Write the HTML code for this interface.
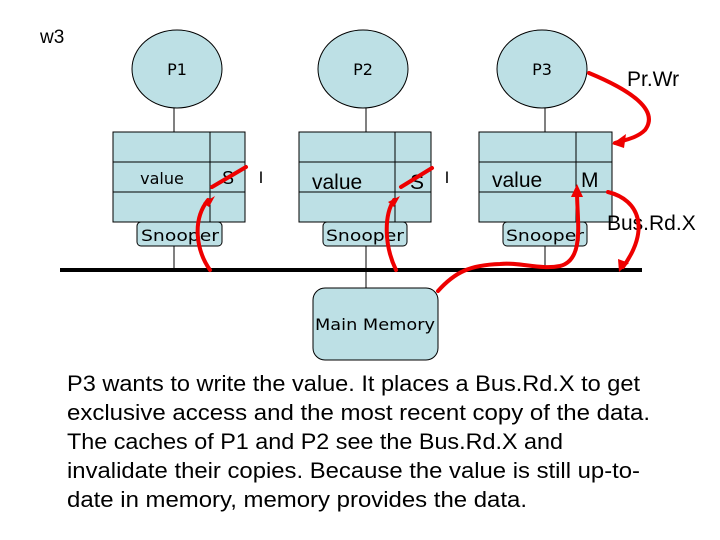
<!DOCTYPE html>
<html><head><meta charset="utf-8"><style>
html,body{margin:0;padding:0;background:#fff}
svg{display:block}
.m{font-family:"DejaVu Sans","Liberation Sans",sans-serif}
.s{font-family:"Liberation Sans",sans-serif}
</style></head><body>
<svg width="720" height="540" viewBox="0 0 720 540" xmlns="http://www.w3.org/2000/svg">
<g fill="#bde0e5" stroke="#000" stroke-width="1">
<ellipse cx="177" cy="69" rx="45" ry="39"/>
<ellipse cx="363" cy="69" rx="45" ry="39"/>
<ellipse cx="542" cy="69" rx="45" ry="39"/>
<rect x="113" y="132" width="132" height="90"/>
<rect x="299" y="132" width="132" height="90"/>
<rect x="479" y="132" width="133" height="90"/>
<rect x="137" y="222" width="85" height="24" rx="4"/>
<rect x="323" y="222" width="84" height="24" rx="4"/>
<rect x="503" y="222" width="84" height="24" rx="4"/>
<rect x="313" y="288" width="125" height="72" rx="12"/>
</g>
<g stroke="#000" stroke-width="1">
<line x1="113" y1="162" x2="245" y2="162"/><line x1="113" y1="192" x2="245" y2="192"/><line x1="210" y1="132" x2="210" y2="222"/>
<line x1="299" y1="162" x2="431" y2="162"/><line x1="299" y1="192" x2="431" y2="192"/><line x1="395" y1="132" x2="395" y2="222"/>
<line x1="479" y1="162" x2="612" y2="162"/><line x1="479" y1="192" x2="612" y2="192"/><line x1="576" y1="132" x2="576" y2="222"/>
<line x1="174" y1="108" x2="174" y2="132"/><line x1="174" y1="246" x2="174" y2="270"/>
<line x1="366" y1="108" x2="366" y2="132"/><line x1="366" y1="246" x2="366" y2="288"/>
<line x1="545" y1="108" x2="545" y2="132"/><line x1="545" y1="246" x2="545" y2="270"/>
</g>
<rect x="60" y="268" width="582" height="4" fill="#000"/>
<text x="40" y="43" class="s" font-size="19">w3</text>
<g class="m" font-size="16" text-anchor="middle">
<text x="177" y="75">P1</text><text x="363" y="75">P2</text><text x="542" y="75">P3</text>
<text x="162" y="184">value</text>
<text x="180" y="241" textLength="78" lengthAdjust="spacingAndGlyphs">Snooper</text>
<text x="365" y="241" textLength="78" lengthAdjust="spacingAndGlyphs">Snooper</text>
<text x="545" y="241" textLength="78" lengthAdjust="spacingAndGlyphs">Snooper</text>
<text x="375" y="330" textLength="120" lengthAdjust="spacingAndGlyphs">Main Memory</text>
<text x="261" y="183">I</text><text x="447" y="183">I</text>
</g>
<g class="s" font-size="21">
<text x="312" y="189">value</text><text x="410" y="189">S</text>
<text x="492" y="187">value</text><text x="581" y="187">M</text>
<text x="222" y="184" font-size="18">S</text>
<text x="627" y="86">Pr.Wr</text>
<text x="607" y="230">Bus.Rd.X</text>
</g>
<g fill="none" stroke="#e00" stroke-width="4" stroke-linecap="round">
<path d="M212 187 L246 167"/>
<path d="M401 187 L432 168"/>
<path d="M210 270 C196 250 192 220 208 200"/>
<path d="M396 270 C384 245 384 215 394 200"/>
<path d="M589 73 C630 90 660 110 645 130 C637 138 625 140 615 143"/>
<path d="M438 291 C455 272 470 265 500 264 C520 262 540 270 560 266 C585 260 577 220 577 192"/>
<path d="M608 192 C640 200 650 230 623 267"/>
</g>
<g fill="#e00">
<polygon points="215,196 203,203 209,207"/>
<polygon points="400,196 388,202 394,207"/>
<polygon points="612,144 626,134 624,148"/>
<polygon points="577,184 571,197 583,197"/>
<polygon points="619,272 618,259 629,263"/>
</g>
<g class="s" font-size="22" fill="#000">
<text x="67" y="391" textLength="573" lengthAdjust="spacingAndGlyphs">P3 wants to write the value. It places a Bus.Rd.X to get</text>
<text x="67" y="420" textLength="583" lengthAdjust="spacingAndGlyphs">exclusive access and the most recent copy of the data.</text>
<text x="67" y="449" textLength="496" lengthAdjust="spacingAndGlyphs">The caches of P1 and P2 see the Bus.Rd.X and</text>
<text x="67" y="478" textLength="573" lengthAdjust="spacingAndGlyphs">invalidate their copies. Because the value is still up-to-</text>
<text x="67" y="507" textLength="460" lengthAdjust="spacingAndGlyphs">date in memory, memory provides the data.</text>
</g>
</svg>
</body></html>
